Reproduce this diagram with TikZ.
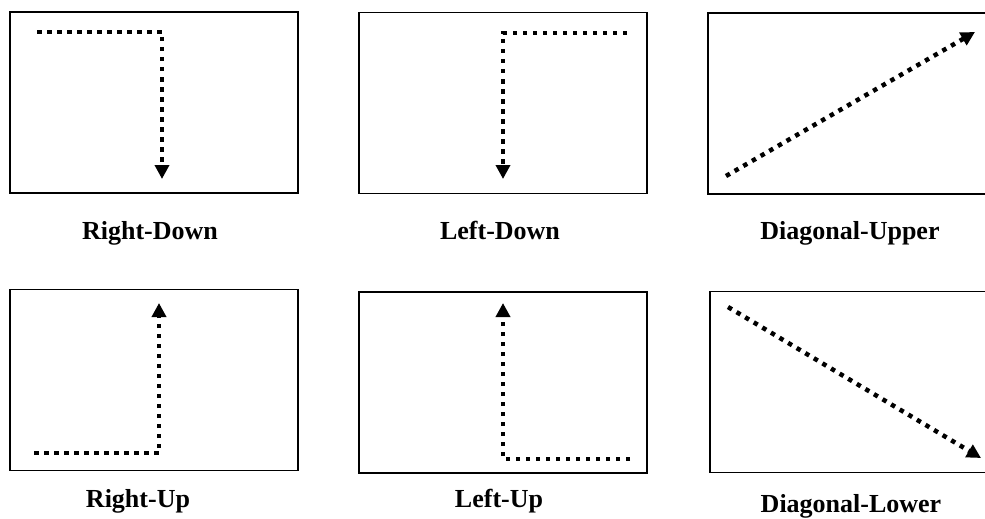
\documentclass[tikz,border=0pt]{standalone}
\usepackage{fontspec}
\setmainfont{Liberation Serif}
\usetikzlibrary{arrows.meta,positioning}

\begin{document}
\begin{tikzpicture}[
  x=1pt, y=-1pt,
  frame/.style={draw, line width=1.6pt, minimum width=288pt, minimum height=181pt, inner sep=0pt},
  route/.style={line width=4.5pt, dash pattern=on 4.5pt off 5.5pt, -{Triangle[length=14pt, width=14pt]}},
  caption/.style={anchor=base, inner sep=0pt, font=\bfseries\fontsize{26}{30}\selectfont}
]
\useasboundingbox (0,0) rectangle (985,519);
\clip (0,0) rectangle (985,519);

% top row
\node[frame] (rdbox) at (154,102.5) {};
\node[frame] (ldbox) at (503,103) {};
\node[frame] (dubox) at (852,103.5) {};
% bottom row
\node[frame] (rubox) at (154,380) {};
\node[frame] (lubox) at (503,382.5) {};
\node[frame] (dlbox) at (854,382) {};

\coordinate (rd1) at (37,32);
\coordinate (rd2) at (162,179);
\coordinate (ld1) at (627,33);
\coordinate (ld2) at (503,179);
\coordinate (du1) at (726,176);
\coordinate (du2) at (975,32);
\coordinate (ru1) at (34,453);
\coordinate (ru2) at (159,303);
\coordinate (lu1) at (630,459);
\coordinate (lu2) at (503,303);
\coordinate (dl1) at (728,307);
\coordinate (dl2) at (981,458);

\draw[route] (rd1) -| (rd2);
\draw[route] (ld1) -| (ld2);
\draw[route] (du1) -- (du2);
\draw[route] (ru1) -| (ru2);
\draw[route] (lu1) -| (lu2);
\draw[route] (dl1) -- (dl2);

\node[caption] (rdtxt) at (150,239) {Right-Down};
\node[caption] (ldtxt) at (500,239) {Left-Down};
\node[caption] (dutxt) at (850,239) {Diagonal-Upper};
\node[caption] (rutxt) at (138,507) {Right-Up};
\node[caption] (lutxt) at (499,507) {Left-Up};
\node[caption] (dltxt) at (851,512) {Diagonal-Lower};
\end{tikzpicture}
\end{document}
